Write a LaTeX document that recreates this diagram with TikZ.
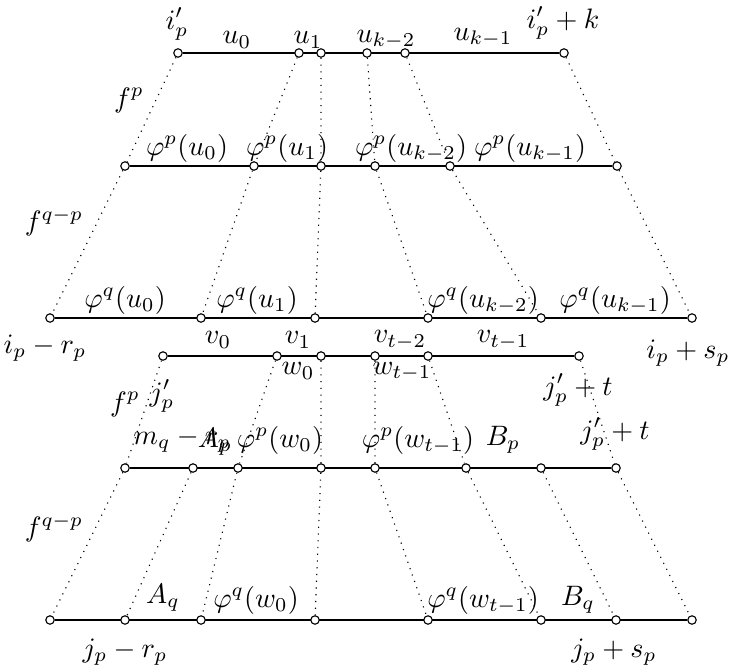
\documentclass[tikz,border=0pt]{standalone}
\usetikzlibrary{backgrounds}

\begin{document}
\begin{tikzpicture}[
    x=0.0125cm, y=-0.0125cm,
    pt/.style={circle, draw, fill=white, inner sep=0pt, minimum size=3pt},
    seg/.style={black, line width=0.45pt},
    map/.style={dotted},
    lbl/.style={inner sep=0pt},
]
    \useasboundingbox (0,0) rectangle (731,671);

    % --- upper block: u row, phi^p row, phi^q row ---
    \node[pt] (a0) at (178,53) {};  \node[pt] (a1) at (299,53) {};  \node[pt] (a2) at (321,53) {};
    \node[pt] (a3) at (367,53) {};  \node[pt] (a4) at (405,53) {};  \node[pt] (a5) at (564,53) {};

    \node[pt] (b0) at (125,166) {}; \node[pt] (b1) at (254,166) {}; \node[pt] (b2) at (321,166) {};
    \node[pt] (b3) at (375,166) {}; \node[pt] (b4) at (450,166) {}; \node[pt] (b5) at (617,166) {};

    \node[pt] (c0) at (50,318) {};  \node[pt] (c1) at (201,318) {}; \node[pt] (c2) at (315,318) {};
    \node[pt] (c3) at (428,318) {}; \node[pt] (c4) at (541,318) {}; \node[pt] (c5) at (692,318) {};

    % --- lower block: w row, phi^p row, phi^q row ---
    \node[pt] (d0) at (163,356) {}; \node[pt] (d1) at (277,356) {}; \node[pt] (d2) at (321,356) {};
    \node[pt] (d3) at (375,356) {}; \node[pt] (d4) at (428,356) {}; \node[pt] (d5) at (579,356) {};

    \node[pt] (e0) at (125,468) {}; \node[pt] (e1) at (193,468) {}; \node[pt] (e2) at (238,468) {};
    \node[pt] (e3) at (321,468) {}; \node[pt] (e4) at (375,468) {}; \node[pt] (e5) at (466,468) {};
    \node[pt] (e6) at (541,468) {}; \node[pt] (e7) at (616,468) {};

    \node[pt] (g0) at (50,620) {};  \node[pt] (g1) at (125,620) {}; \node[pt] (g2) at (201,620) {};
    \node[pt] (g3) at (315,620) {}; \node[pt] (g4) at (428,620) {}; \node[pt] (g5) at (541,620) {};
    \node[pt] (g6) at (616,620) {}; \node[pt] (g7) at (692,620) {};

    \begin{scope}[on background layer]
        % --- horizontal segments ---
        \draw[seg] (a0) -- (a5);
        \draw[seg] (b0) -- (b5);
        \draw[seg] (c0) -- (c5);
        \draw[seg] (d0) -- (d5);
        \draw[seg] (e0) -- (e7);
        \draw[seg] (g0) -- (g7);

        % --- images under f^p and f^{q-p} ---
        \draw[map] (a0) -- (b0) -- (c0);
        \draw[map] (a1) -- (b1) -- (c1);
        \draw[map] (a2) -- (b2) -- (c2);
        \draw[map] (a3) -- (b3) -- (c3);
        \draw[map] (a4) -- (b4) -- (c4);
        \draw[map] (a5) -- (b5) -- (c5);

        \draw[map] (d0) -- (e0) -- (g0);
        \draw[map] (e1) -- (g1);
        \draw[map] (d1) -- (e2) -- (g2);
        \draw[map] (d2) -- (e3) -- (g3);
        \draw[map] (d3) -- (e4) -- (g4);
        \draw[map] (d4) -- (e5) -- (g5);
        \draw[map] (e6) -- (g6);
        \draw[map] (d5) -- (e7) -- (g7);
    \end{scope}

    % --- labels, upper block ---
    \node[lbl] (ip)    at (177,24)  {$i'_p$};
    \node[lbl] (lu0)   at (237,40)  {$u_0$};
    \node[lbl] (lu1)   at (308,40)  {$u_1$};
    \node[lbl] (luk2)  at (386,40)  {$u_{k-2}$};
    \node[lbl] (luk1)  at (483,38)  {$u_{k-1}$};
    \node[lbl] (ipk)   at (563,23)  {$i'_p+k$};
    \node[lbl] (fp1)   at (129,100) {$f^p$};
    \node[lbl] (pu0)   at (187,148) {$\varphi^p(u_0)$};
    \node[lbl] (pu1)   at (287,148) {$\varphi^p(u_1)$};
    \node[lbl] (puk2)  at (411,148) {$\varphi^p(u_{k-2})$};
    \node[lbl] (puk1)  at (530,148) {$\varphi^p(u_{k-1})$};
    \node[lbl] (fqp1)  at (54,222)  {$f^{q-p}$};
    \node[lbl] (qu0)   at (125,300) {$\varphi^q(u_0)$};
    \node[lbl] (qu1)   at (257,300) {$\varphi^q(u_1)$};
    \node[lbl] (quk2)  at (483,300) {$\varphi^q(u_{k-2})$};
    \node[lbl] (quk1)  at (615,300) {$\varphi^q(u_{k-1})$};
    \node[lbl] (irp)   at (45,348)  {$i_p-r_p$};
    \node[lbl] (isp)   at (688,353) {$i_p+s_p$};
    \node[lbl] (lv0)   at (218,340) {$v_0$};
    \node[lbl] (lv1)   at (298,340) {$v_1$};
    \node[lbl] (lvt2)  at (400,340) {$v_{t-2}$};
    \node[lbl] (lvt1)  at (503,340) {$v_{t-1}$};

    % --- labels, lower block ---
    \node[lbl] (lw0)   at (298,371) {$w_0$};
    \node[lbl] (lwt1)  at (402,372) {$w_{t-1}$};
    \node[lbl] (jp)    at (162,396) {$j'_p$};
    \node[lbl] (fp2)   at (125,404) {$f^p$};
    \node[lbl] (jpt1)  at (578,390) {$j'_p+t$};
    \node[lbl] (jpt2)  at (615,434) {$j'_p+t$};
    \node[lbl] (mqr)   at (182,440) {$m_q-r_p$};
    \node[lbl] (ap)    at (215,442) {$A_p$};
    \node[lbl] (pw0)   at (280,440) {$\varphi^p(w_0)$};
    \node[lbl] (pwt1)  at (418,440) {$\varphi^p(w_{t-1})$};
    \node[lbl] (bp)    at (503,440) {$B_p$};
    \node[lbl] (fqp2)  at (54,528)  {$f^{q-p}$};
    \node[lbl] (aq)    at (163,598) {$A_q$};
    \node[lbl] (qw0)   at (256,600) {$\varphi^q(w_0)$};
    \node[lbl] (qwt1)  at (483,600) {$\varphi^q(w_{t-1})$};
    \node[lbl] (bq)    at (578,600) {$B_q$};
    \node[lbl] (jrp)   at (125,652) {$j_p-r_p$};
    \node[lbl] (jsp)   at (614,652) {$j_p+s_p$};
\end{tikzpicture}
\end{document}
